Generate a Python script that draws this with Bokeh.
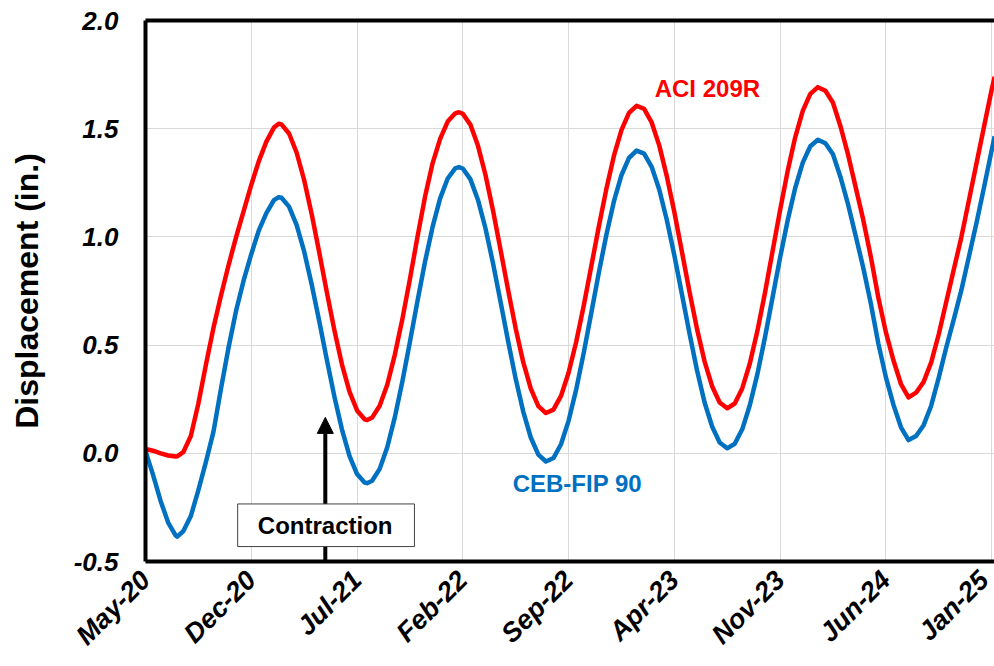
import math
from bokeh.plotting import figure
from bokeh.models import (Range1d, FixedTicker, LinearAxis, Label, BoxAnnotation,
                          Arrow, NormalHead, ColumnDataSource)
from bokeh.embed import file_html
from bokeh.resources import INLINE

# ---------------- data ----------------
# x positions: months after May-2020 (half-month samples plus read extrema)
MONTHS = [
    0.0, 0.5, 1.0, 1.5, 2.0, 2.1, 2.5, 3.0, 3.5, 4.0, 4.5,
    5.0, 5.5, 6.0, 6.5, 7.0, 7.5, 8.0, 8.5, 8.82, 9.0, 9.5,
    10.0, 10.5, 11.0, 11.5, 12.0, 12.5, 13.0, 13.5, 14.0, 14.5, 14.67,
    15.0, 15.5, 16.0, 16.5, 17.0, 17.5, 18.0, 18.5, 19.0, 19.5,
    20.0, 20.5, 20.74, 21.0, 21.5, 22.0, 22.5, 23.0, 23.5, 24.0, 24.5,
    25.0, 25.5, 26.0, 26.5, 27.0, 27.5, 28.0, 28.5, 29.0, 29.5,
    30.0, 30.5, 31.0, 31.5, 32.0, 32.5, 33.0, 33.5, 34.0, 34.5,
    35.0, 35.5, 36.0, 36.5, 37.0, 37.5, 38.0, 38.5, 39.0, 39.5,
    40.0, 40.5, 41.0, 41.5, 42.0, 42.5, 43.0, 43.5, 44.0, 44.5,
    45.0, 45.5, 46.0, 46.5, 47.0, 47.5, 48.0, 48.5, 49.0, 49.5,
    50.0, 50.5, 51.0, 51.5, 52.0, 52.5, 53.0, 53.5, 54.0, 54.5,
    55.0, 55.5, 56.0, 56.2,
]

ACI_209R = [
    0.02, 0.012, 0.0, -0.01, -0.015, -0.014, 0.005, 0.08, 0.23, 0.41, 0.58,
    0.73, 0.87, 1.0, 1.12, 1.24, 1.35, 1.44, 1.505, 1.523, 1.52, 1.478,
    1.39, 1.263, 1.105, 0.928, 0.745, 0.569, 0.411, 0.285, 0.198, 0.157, 0.154,
    0.165, 0.22, 0.317, 0.455, 0.62, 0.805, 1.0, 1.185, 1.34, 1.453,
    1.533, 1.571, 1.576, 1.569, 1.519, 1.422, 1.287, 1.122, 0.94, 0.754, 0.577,
    0.421, 0.299, 0.218, 0.186, 0.202, 0.265, 0.372, 0.513, 0.681, 0.863,
    1.047, 1.221, 1.374, 1.493, 1.573, 1.606, 1.592, 1.529, 1.423, 1.281,
    1.115, 0.932, 0.748, 0.575, 0.425, 0.31, 0.235, 0.208, 0.23, 0.301,
    0.416, 0.566, 0.742, 0.933, 1.124, 1.304, 1.46, 1.582, 1.661, 1.692,
    1.675, 1.62, 1.51, 1.38, 1.23, 1.08, 0.91, 0.72, 0.56, 0.43,
    0.32, 0.258, 0.28, 0.33, 0.42, 0.55, 0.7, 0.85, 1.0, 1.17,
    1.34, 1.51, 1.68, 1.74,
]

CEB_FIP_90 = [
    0.01, -0.10, -0.22, -0.32, -0.38, -0.385, -0.36, -0.29, -0.17, -0.04, 0.10,
    0.30, 0.49, 0.66, 0.80, 0.92, 1.03, 1.11, 1.17, 1.184, 1.181, 1.14,
    1.056, 0.933, 0.78, 0.61, 0.433, 0.263, 0.111, -0.012, -0.096, -0.135, -0.138,
    -0.127, -0.072, 0.028, 0.166, 0.332, 0.515, 0.703, 0.885, 1.046, 1.178,
    1.27, 1.317, 1.323, 1.316, 1.267, 1.172, 1.04, 0.878, 0.70, 0.518, 0.344,
    0.193, 0.073, -0.006, -0.038, -0.022, 0.042, 0.15, 0.293, 0.463, 0.647,
    0.834, 1.009, 1.164, 1.285, 1.365, 1.399, 1.385, 1.324, 1.219, 1.079,
    0.915, 0.736, 0.555, 0.384, 0.236, 0.124, 0.05, 0.023, 0.044, 0.112,
    0.223, 0.367, 0.536, 0.72, 0.904, 1.076, 1.226, 1.343, 1.419, 1.449,
    1.433, 1.382, 1.276, 1.15, 1.005, 0.859, 0.694, 0.508, 0.352, 0.225,
    0.12, 0.061, 0.08, 0.13, 0.22, 0.35, 0.49, 0.62, 0.755, 0.91,
    1.065, 1.23, 1.40, 1.465,
]

X_TICKS = [0, 7, 14, 21, 28, 35, 42, 49, 56]
X_LABELS = ["May-20", "Dec-20", "Jul-21", "Feb-22", "Sep-22",
            "Apr-23", "Nov-23", "Jun-24", "Jan-25"]
Y_TICKS = [-0.5, 0.0, 0.5, 1.0, 1.5, 2.0]
Y_LABELS = ["-0.5", "0.0", "0.5", "1.0", "1.5", "2.0"]
Y_TITLE = "Displacement (in.)"

FONT = "Liberation Sans"
RED = "#FF0000"
BLUE = "#0070C0"

# ---------------- figure ----------------
p = figure(width=994, height=666, output_backend="svg", toolbar_location=None,
           x_range=Range1d(0, 56.19), y_range=Range1d(-0.5, 2.0),
           min_border_left=145, min_border_right=0, min_border_top=20,
           min_border_bottom=105)
p.outline_line_color = None
p.background_fill_color = "white"
p.border_fill_color = "white"

# x axis
xa = p.xaxis[0]
xa.ticker = FixedTicker(ticks=X_TICKS)
xa.major_label_overrides = {t: l for t, l in zip(X_TICKS, X_LABELS)}
xa.major_label_orientation = math.pi / 4
xa.major_label_text_font = FONT
xa.major_label_text_font_size = "27px"
xa.major_label_text_font_style = "bold italic"
xa.major_label_text_color = "black"
xa.major_label_standoff = 8
xa.axis_line_width = 4
xa.axis_line_color = "black"
xa.major_tick_line_color = None
xa.minor_tick_line_color = None

# y axis
ya = p.yaxis[0]
ya.ticker = FixedTicker(ticks=Y_TICKS)
ya.major_label_overrides = {t: l for t, l in zip(Y_TICKS, Y_LABELS)}
ya.major_label_text_font = FONT
ya.major_label_text_font_size = "26px"
ya.major_label_text_font_style = "bold italic"
ya.major_label_text_color = "black"
ya.major_label_standoff = 21
ya.axis_line_width = 4
ya.axis_line_color = "black"
ya.major_tick_line_color = None
ya.minor_tick_line_color = None
ya.axis_label = Y_TITLE
ya.axis_label_text_font = FONT
ya.axis_label_text_font_size = "32px"
ya.axis_label_text_font_style = "bold"
ya.axis_label_text_color = "black"
ya.axis_label_standoff = 26

# top border as an axis without ticks
top = LinearAxis(ticker=FixedTicker(ticks=[]), axis_line_width=4, axis_line_color="black",
                 major_tick_line_color=None, minor_tick_line_color=None,
                 major_label_text_font_size="0px")
p.add_layout(top, "above")

p.xgrid.grid_line_color = "#d9d9d9"
p.xgrid.grid_line_width = 1
p.ygrid.grid_line_color = "#d9d9d9"
p.ygrid.grid_line_width = 1

# arrow (behind curves and box)
arrow = Arrow(end=NormalHead(size=16, fill_color="black", line_color="black"),
              x_start=11.9, y_start=-0.5, x_end=11.9, y_end=0.166,
              line_width=4, line_color="black", level="underlay")
p.add_layout(arrow)

src = ColumnDataSource(dict(m=MONTHS, aci=ACI_209R, ceb=CEB_FIP_90))
p.line("m", "ceb", source=src, line_color=BLUE, line_width=4.5, line_join="round")
p.line("m", "aci", source=src, line_color=RED, line_width=4.5, line_join="round")

box = BoxAnnotation(left=6.1, right=17.8, bottom=-0.431, top=-0.234,
                    fill_color="white", fill_alpha=1.0,
                    line_color="#404040", line_width=1, line_alpha=1.0)
p.add_layout(box)

p.add_layout(Label(x=11.89, y=-0.335, text="Contraction", text_align="center",
                   text_baseline="middle", text_font=FONT, text_font_size="24px",
                   text_font_style="bold", text_color="black"))
p.add_layout(Label(x=33.7, y=1.686, text="ACI 209R", text_align="left",
                   text_baseline="middle", text_font=FONT, text_font_size="24px",
                   text_font_style="bold", text_color=RED))
p.add_layout(Label(x=24.3, y=-0.14, text="CEB-FIP 90", text_align="left",
                   text_baseline="middle", text_font=FONT, text_font_size="24px",
                   text_font_style="bold", text_color=BLUE))

open("out.html", "w").write(file_html(p, INLINE))
